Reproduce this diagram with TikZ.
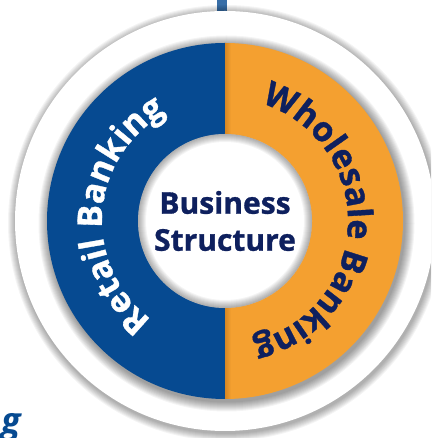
\documentclass[tikz,border=0pt]{standalone}
\usepackage{fontspec}
\setmainfont{Open Sans}[BoldFeatures={FakeBold=1}]
\usepackage{tikz}
\usetikzlibrary{decorations.text}
\definecolor{ringblue}{RGB}{6,74,145}
\definecolor{ringorange}{RGB}{244,160,48}
\definecolor{seam}{RGB}{214,135,35}
\definecolor{navy}{RGB}{14,32,94}
\newcommand{\ringfont}{\fontsize{34}{34}\selectfont\bfseries}
\tikzstyle{hub} = [circle, fill=white, inner sep=0pt, minimum size=174pt,
    text=navy, align=center, font=\fontsize{30}{37}\selectfont\bfseries]
\tikzstyle{halo} = [black, opacity=0.045]

\begin{document}
\begin{tikzpicture}[x=1pt,y=1pt]
  \clip (0,0) rectangle (431,438);
  \fill[white] (0,0) rectangle (431,438);
  \coordinate (C) at (225,217);

  % tab sticking out above the disc
  \fill[ringblue!80] (217,420) rectangle (227,438);

  % soft shadow round the outer disc
  \foreach \r in {1,...,8}
    \fill[halo] ([shift={(1,-2)}]C) circle (210+\r);
  \fill[white] (C) circle (210);

  % shadow of the coloured ring on the white border
  \foreach \r in {1,...,10}
    \fill[halo] ([shift={(1.5,-2.5)}]C) circle (178+\r);

  % the two halves
  \fill[ringblue] (C) -- ([shift={(90:178)}]C) arc[start angle=90, end angle=270, radius=178] -- cycle;
  \fill[ringorange] (C) -- ([shift={(-90:178)}]C) arc[start angle=-90, end angle=90, radius=178] -- cycle;
  \begin{scope}
    \clip (C) circle (178);
    \shade[left color=seam, right color=ringorange] (225,30) rectangle (231,400);
  \end{scope}

  % centre
  \node[hub] (hub) at (C) {Business\\Structure};
  \foreach \r in {1,...,8}
    \fill[halo, even odd rule] (hub.center) circle (87) (hub.center) circle (87-\r);

  % curved labels
  \path[decorate, decoration={text along path, text align=center,
      text={|\ringfont\color{white}|Retail Banking}}]
    ([shift={(251:123)}]C) arc[start angle=251, end angle=101, radius=123];
  \path[decorate, decoration={text along path, text align=center,
      text={|\ringfont\color{navy}|Wholesale Banking}}]
    ([shift={(82:123)}]C) arc[start angle=82, end angle=-86, radius=123];

  \node[anchor=base east, inner sep=0pt, text=ringblue,
    font=\fontsize{36}{36}\selectfont\bfseries\itshape] (tail) at (21,5) {g};
\end{tikzpicture}
\end{document}
